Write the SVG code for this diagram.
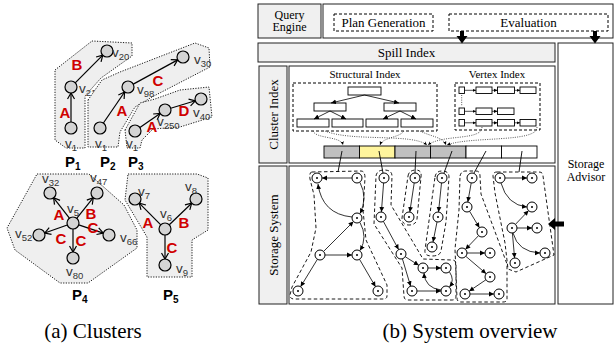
<svg xmlns="http://www.w3.org/2000/svg" width="615" height="350" viewBox="0 0 615 350">
<defs>
  <marker id="open" markerWidth="9" markerHeight="9" refX="7" refY="4.5" orient="auto" markerUnits="userSpaceOnUse">
    <path d="M1,1 L7,4.5 L1,8" fill="none" stroke="#000" stroke-width="1.2"/>
  </marker>
  <marker id="tip" markerWidth="6" markerHeight="6" refX="5" refY="3" orient="auto" markerUnits="userSpaceOnUse">
    <path d="M0,0.6 L5,3 L0,5.4 Z" fill="#000"/>
  </marker>
  <marker id="tiny" markerWidth="4" markerHeight="4" refX="3.5" refY="2" orient="auto" markerUnits="userSpaceOnUse">
    <path d="M0,0.4 L3.5,2 L0,3.6 Z" fill="#000"/>
  </marker>
  <g id="snode"><circle r="5" fill="#fff" stroke="#000" stroke-width="1"/><circle r="1" fill="#000"/></g>
</defs>
<style>
  .hull{fill:#efefef;stroke:#000;stroke-width:0.9;stroke-dasharray:1.2 1.4}
  .pn{fill:#d4d4d4;stroke:#000;stroke-width:1.2}
  .pe{stroke:#000;stroke-width:1.2;fill:none;marker-end:url(#open)}
  .vl{font-family:"Liberation Sans",Arial,sans-serif;font-size:13.5px;fill:#333}
  .sub{font-size:9.5px}
  .el{font-family:"Liberation Sans",Arial,sans-serif;font-size:15px;font-weight:bold;fill:#d00000;text-anchor:middle}
  .pl{font-family:"Liberation Sans",Arial,sans-serif;font-size:15px;font-weight:bold;fill:#000}
  .psub{font-size:10px}
  .box{fill:#fff;stroke:#222;stroke-width:1}
  .gbox{fill:#f0f0f0;stroke:#222;stroke-width:1}
  .t{font-family:"Liberation Serif","Times New Roman",serif;font-size:13px;fill:#000;text-anchor:middle}
  .tt{font-size:12px}
  .ts{font-size:11px}
  .cap{font-family:"Liberation Serif","Times New Roman",serif;font-size:21px;fill:#000;text-anchor:middle}
  .dash{fill:none;stroke:#000;stroke-width:1;stroke-dasharray:3 2}
  .tr{fill:#fff;stroke:#000;stroke-width:0.9}
  .te{fill:none;stroke:#000;stroke-width:0.8;marker-end:url(#tip)}
  .ve{fill:none;stroke:#000;stroke-width:0.7;marker-end:url(#tiny)}
  .se{fill:none;stroke:#000;stroke-width:0.8;marker-end:url(#tip)}
  .ln{fill:none;stroke:#000;stroke-width:0.9}
  .grp{fill:none;stroke:#000;stroke-width:0.9;stroke-dasharray:3.5 2.5}
  .dot{fill:none;stroke:#444;stroke-width:0.9;stroke-dasharray:1 1.3}
  .big{fill:#000}
</style>
<rect width="615" height="350" fill="#fff"/>

<!-- ===== (a) clusters ===== -->
<g id="P1">
  <path class="hull" d="M55,70 L92,41 L132,43 L132,56 L101,78 L85,96 L85,148 L66,148 L55,140 Z"/>
  <g id="P1-edges">
    <line class="pe" x1="71" y1="122" x2="71" y2="93"/>
    <line class="pe" x1="75.2" y1="82.8" x2="102.8" y2="55.2"/>
  </g>
  <g id="P1-v1"><circle class="pn" cx="71" cy="128" r="6"/><text class="vl" x="65" y="148">v<tspan class="sub" dy="3">1</tspan></text></g>
  <g id="P1-v21"><circle class="pn" cx="71" cy="87" r="6"/><text class="vl" x="79" y="93">v<tspan class="sub" dy="3">21</tspan></text></g>
  <g id="P1-v20"><circle class="pn" cx="107" cy="51" r="6"/><text class="vl" x="112" y="57">v<tspan class="sub" dy="3">20</tspan></text></g>
  <text class="el" x="65" y="118">A</text>
  <text class="el" x="77" y="70">B</text>
  <text class="pl" x="65" y="167">P<tspan class="psub" dy="3">1</tspan></text>
</g>

<g id="P2">
  <path class="hull" d="M88,100 L102,80 L120,72 L195,43 L209,48 L210,67 L152,97 L135,107 L120,132 L118,147 L88,147 Z"/>
  <g id="P2-edges">
    <line class="pe" x1="103.4" y1="123" x2="124.6" y2="92"/>
    <line class="pe" x1="133.3" y1="84.1" x2="177.7" y2="59.9"/>
  </g>
  <g id="P2-v1"><circle class="pn" cx="100" cy="128" r="6"/><text class="vl" x="95" y="148">v<tspan class="sub" dy="3">1</tspan></text></g>
  <g id="P2-v98"><circle class="pn" cx="128" cy="87" r="6"/><text class="vl" x="137" y="94">v<tspan class="sub" dy="3">98</tspan></text></g>
  <g id="P2-v30"><circle class="pn" cx="183" cy="57" r="6"/><text class="vl" x="194" y="64">v<tspan class="sub" dy="3">30</tspan></text></g>
  <text class="el" x="122" y="116">A</text>
  <text class="el" x="158" y="86">C</text>
  <text class="pl" x="100" y="167">P<tspan class="psub" dy="3">2</tspan></text>
</g>

<g id="P3">
  <path class="hull" d="M125,130 L140,103 L155,99 L180,90 L209,87 L212,117 L180,127 L153,129 L142,140 L140,148 L127,148 Z"/>
  <g id="P3-edges">
    <line class="pe" x1="139.9" y1="127.6" x2="160.1" y2="113.4"/>
    <line class="pe" x1="170.7" y1="108.2" x2="195.3" y2="100.8"/>
  </g>
  <g id="P3-v1"><circle class="pn" cx="135" cy="131" r="6"/><text class="vl" x="126" y="148">v<tspan class="sub" dy="3">1</tspan></text></g>
  <g id="P3-v250"><circle class="pn" cx="165" cy="110" r="6"/><text class="vl" x="157" y="126">v<tspan class="sub" dy="3">250</tspan></text></g>
  <g id="P3-v40"><circle class="pn" cx="201" cy="99" r="6"/><text class="vl" x="193" y="117">v<tspan class="sub" dy="3">40</tspan></text></g>
  <text class="el" x="152" y="132">A</text>
  <text class="el" x="184" y="116">D</text>
  <text class="pl" x="128" y="167">P<tspan class="psub" dy="3">3</tspan></text>
</g>

<g id="P4">
  <path class="hull" d="M37,174 L89,174 L124,205 L137,230 L137,248 L88,283 L60,283 L15,250 L7,228 Z"/>
  <g id="P4-edges">
    <line class="pe" x1="69.4" y1="218.2" x2="53.6" y2="197.8"/>
    <line class="pe" x1="76.7" y1="218.3" x2="93.3" y2="197.7"/>
    <line class="pe" x1="67.3" y1="225" x2="44.7" y2="233"/>
    <line class="pe" x1="78.7" y1="224.9" x2="103.3" y2="233.1"/>
    <line class="pe" x1="73" y1="229" x2="73" y2="252"/>
  </g>
  <g id="P4-v5"><circle class="pn" cx="73" cy="223" r="6"/><text class="vl" x="67" y="213">v<tspan class="sub" dy="3">5</tspan></text></g>
  <g id="P4-v32"><circle class="pn" cx="50" cy="193" r="6"/><text class="vl" x="42" y="183">v<tspan class="sub" dy="3">32</tspan></text></g>
  <g id="P4-v47"><circle class="pn" cx="97" cy="193" r="6"/><text class="vl" x="90" y="182">v<tspan class="sub" dy="3">47</tspan></text></g>
  <g id="P4-v52"><circle class="pn" cx="39" cy="235" r="6"/><text class="vl" x="15" y="238">v<tspan class="sub" dy="3">52</tspan></text></g>
  <g id="P4-v66"><circle class="pn" cx="109" cy="235" r="6"/><text class="vl" x="120" y="242">v<tspan class="sub" dy="3">66</tspan></text></g>
  <g id="P4-v80"><circle class="pn" cx="73" cy="258" r="6"/><text class="vl" x="66" y="276">v<tspan class="sub" dy="3">80</tspan></text></g>
  <text class="el" x="59" y="220">A</text>
  <text class="el" x="91" y="219">B</text>
  <text class="el" x="93" y="233">C</text>
  <text class="el" x="61" y="244">C</text>
  <text class="el" x="81" y="246">C</text>
  <text class="pl" x="72" y="300">P<tspan class="psub" dy="3">4</tspan></text>
</g>

<g id="P5">
  <path class="hull" d="M128,174 L197,174 L208,178 L208,230 L192,240 L192,277 L147,277 L147,237 L125,200 Z"/>
  <g id="P5-edges">
    <line class="pe" x1="160.8" y1="224.8" x2="139.2" y2="203.2"/>
    <line class="pe" x1="169.3" y1="224.8" x2="191.7" y2="203.2"/>
    <line class="pe" x1="165" y1="235" x2="165" y2="259"/>
  </g>
  <g id="P5-v6"><circle class="pn" cx="165" cy="229" r="6"/><text class="vl" x="160" y="218">v<tspan class="sub" dy="3">6</tspan></text></g>
  <g id="P5-v7"><circle class="pn" cx="135" cy="199" r="6"/><text class="vl" x="138" y="196">v<tspan class="sub" dy="3">7</tspan></text></g>
  <g id="P5-v8"><circle class="pn" cx="196" cy="199" r="6"/><text class="vl" x="185" y="191">v<tspan class="sub" dy="3">8</tspan></text></g>
  <g id="P5-v9"><circle class="pn" cx="165" cy="265" r="6"/><text class="vl" x="176" y="273">v<tspan class="sub" dy="3">9</tspan></text></g>
  <text class="el" x="148" y="228">A</text>
  <text class="el" x="184" y="228">B</text>
  <text class="el" x="172" y="253">C</text>
  <text class="pl" x="163" y="300">P<tspan class="psub" dy="3">5</tspan></text>
</g>

<!-- ===== (b) system overview ===== -->
<g id="query-engine">
  <rect class="gbox" x="258" y="4" width="63" height="34"/>
  <text class="t tt" x="289.5" y="18.5">Query</text>
  <text class="t tt" x="289.5" y="31">Engine</text>
</g>
<g id="engine-body">
  <rect class="box" x="323" y="4" width="290" height="34"/>
</g>
<g id="plan-generation">
  <rect class="dash" x="334" y="14" width="99" height="17"/>
  <text class="t" x="383.5" y="27">Plan Generation</text>
</g>
<g id="evaluation">
  <rect class="dash" x="449" y="14" width="159" height="17"/>
  <text class="t" x="528.5" y="27">Evaluation</text>
</g>
<g id="spill-index">
  <rect class="gbox" x="258" y="43" width="297" height="19"/>
  <text class="t" x="406.5" y="56.5">Spill Index</text>
</g>
<g id="storage-advisor">
  <rect class="box" x="558" y="43" width="55" height="261"/>
  <text class="t tt" x="586" y="168">Storage</text>
  <text class="t tt" x="586" y="180.5">Advisor</text>
</g>

<g id="cluster-index">
  <rect class="gbox" x="259" y="66" width="28" height="97"/>
  <text class="t" transform="translate(277.5,114.5) rotate(-90)">Cluster Index</text>
  <rect class="box" x="289" y="66" width="266" height="97"/>
</g>

<g id="structural-index">
  <text class="t ts" x="365" y="78">Structural Index</text>
  <rect class="dash" x="293" y="83" width="144" height="48"/>
  <rect class="tr" x="348" y="87" width="33" height="8"/>
  <rect class="tr" x="314" y="103" width="32" height="8"/>
  <rect class="tr" x="384" y="103" width="32" height="8"/>
  <rect class="tr" x="297" y="119" width="32" height="8"/>
  <rect class="tr" x="332" y="119" width="31" height="8"/>
  <rect class="tr" x="366" y="119" width="32" height="8"/>
  <rect class="tr" x="401" y="119" width="32" height="8"/>
  <path class="te" d="M364.5,95 L331,103"/>
  <path class="te" d="M364.5,95 L399,103"/>
  <path class="te" d="M330,111 L314,119"/>
  <path class="te" d="M330,111 L346,119"/>
  <path class="te" d="M400,111 L383,119"/>
  <path class="te" d="M400,111 L416,119"/>
</g>

<g id="vertex-index">
  <text class="t ts" x="497" y="78">Vertex Index</text>
  <rect class="dash" x="455" y="83" width="85" height="47"/>
  <rect class="tr" x="459" y="87" width="5.5" height="6.5"/>
  <rect class="tr" x="476" y="87" width="16" height="6.5"/>
  <rect class="tr" x="497.5" y="87" width="17" height="6.5"/>
  <rect class="tr" x="520" y="87" width="16" height="6.5"/>
  <rect class="tr" x="459" y="108" width="5.5" height="6.5"/>
  <rect class="tr" x="476" y="108" width="16" height="6.5"/>
  <rect class="tr" x="497.5" y="108" width="16.5" height="6.5"/>
  <rect class="tr" x="459" y="119.5" width="5.5" height="6.5"/>
  <rect class="tr" x="476" y="119.5" width="16" height="6.5" fill="#fff59d"/>
  <rect class="tr" x="497.5" y="119.5" width="17" height="6.5" fill="#fdd6b2"/>
  <rect class="tr" x="520" y="119.5" width="16" height="6.5" fill="#f77a00"/>
  <path class="ve" d="M464.5,90.3 H476"/>
  <path class="ve" d="M492,90.3 H497.5"/>
  <path class="ve" d="M514.5,90.3 H520"/>
  <path class="ve" d="M464.5,111.3 H476"/>
  <path class="ve" d="M492,111.3 H497.5"/>
  <path class="ve" d="M464.5,122.8 H476"/>
  <path class="ve" d="M492,122.8 H497.5"/>
  <path class="ve" d="M514.5,122.8 H520"/>
  <path class="dot" d="M461.7,95 V106"/>
</g>

<g id="cluster-bar">
  <rect x="324" y="146" width="35.5" height="12" fill="#c0c0c0" stroke="#000" stroke-width="0.9"/>
  <rect x="359.5" y="146" width="35.5" height="12" fill="#fff59d" stroke="#000" stroke-width="0.9"/>
  <rect x="395" y="146" width="35.5" height="12" fill="#c0c0c0" stroke="#000" stroke-width="0.9"/>
  <rect x="430.5" y="146" width="35.5" height="12" fill="#c0c0c0" stroke="#000" stroke-width="0.9"/>
  <rect x="466" y="146" width="35.5" height="12" fill="#fff" stroke="#000" stroke-width="0.9"/>
  <rect x="501.5" y="146" width="35.5" height="12" fill="#fff" stroke="#000" stroke-width="0.9"/>
</g>

<g id="index-pointers">
  <path class="dot" d="M313,131 C316,139 341,136 343,145" marker-end="url(#tiny)"/>
  <path class="dot" d="M404,131 C399,138 383,137 380,145" marker-end="url(#tiny)"/>
  <path class="dot" d="M325,131 C352,142 412,133 427,145" marker-end="url(#tiny)"/>
  <path class="dot" d="M420,131 C432,137 443,137 446,145" marker-end="url(#tiny)"/>
  <path class="dot" d="M482,127 C482,141 442,134 428,145" marker-end="url(#tiny)"/>
  <path class="dot" d="M537,127 C538,143 470,136 447,145" marker-end="url(#tiny)"/>
</g>

<g id="storage-system">
  <rect class="gbox" x="259" y="166" width="28" height="138"/>
  <text class="t" transform="translate(277.5,235) rotate(-90)">Storage System</text>
  <rect class="box" x="289" y="166" width="266" height="138"/>
</g>

<g id="connectors">
  <!-- engine to spill index / advisor -->
  <path class="big" d="M460,31 H464 V36 H467.5 L462,43.5 L456.5,36 H460 Z"/>
  <path class="big" d="M593,31 H597 V36 H600.5 L595,43.5 L589.5,36 H593 Z"/>
  <!-- advisor to storage -->
  <path class="big" d="M548,224 L555,218 V221.5 H564 V226.5 H555 V230 Z"/>
  <!-- cluster cells to storage groups -->
  <line class="ln" x1="342" y1="151" x2="338" y2="172"/>
  <line class="ln" x1="379" y1="151" x2="383" y2="173"/>
  <line class="ln" x1="416" y1="151" x2="415" y2="173"/>
  <line class="ln" x1="452" y1="151" x2="444" y2="173"/>
  <line class="ln" x1="486" y1="151" x2="474" y2="173"/>
  <line class="ln" x1="522" y1="151" x2="519" y2="172"/>
</g>

<g id="group-1">
  <path class="grp" d="M312,172 L361,171 Q365,171 365,178 L363,210 L366,240 L387,285 L387,296 Q387,299 383,299 L294,299 Q290,299 290,295 L292,287 L311,252 L316,228 L314,195 L310,179 Q309,172 312,172 Z"/>
  <line class="se" x1="352" y1="178" x2="322" y2="178"/>
  <path class="se" d="M352,217 Q322,214 318,184"/>
  <path class="se" d="M360,182.5 Q368,198 360,213.5"/>
  <line class="se" x1="323.5" y1="251.5" x2="353.5" y2="221.5"/>
  <line class="se" x1="325" y1="255" x2="352" y2="255"/>
  <path class="se" d="M360,222.5 Q368,237 360,250.5"/>
  <line class="se" x1="317.4" y1="259.3" x2="300.6" y2="286.7"/>
  <line class="se" x1="359.5" y1="259.3" x2="375.5" y2="286.7"/>
  <use href="#snode" x="317" y="178"/><use href="#snode" x="357" y="178"/>
  <use href="#snode" x="357" y="218"/><use href="#snode" x="320" y="255"/>
  <use href="#snode" x="357" y="255"/><use href="#snode" x="298" y="291"/>
  <use href="#snode" x="378" y="291"/>
</g>

<g id="group-2">
  <path class="grp" d="M376,176 Q377,170 384,170 Q392,170 392,176 L391,205 L423,259 L452,260 Q456,260 456,264 L456,296 Q456,300 452,300 L408,300 Q404,300 404,296 L402,268 L374,224 Z"/>
  <line class="se" x1="383.6" y1="183" x2="381.4" y2="212"/>
  <line class="se" x1="383.4" y1="221.4" x2="398.6" y2="249.6"/>
  <line class="se" x1="405.2" y1="256.7" x2="418.8" y2="265.3"/>
  <line class="se" x1="428" y1="268" x2="441" y2="268"/>
  <line class="se" x1="402.4" y1="258.8" x2="410.6" y2="286.2"/>
  <line class="se" x1="417" y1="291" x2="441" y2="291"/>
  <path class="se" d="M449.5,272 Q455,280 449.5,287"/>
  <path class="se" d="M441,290 Q425,288 424,273"/>
  <use href="#snode" x="384" y="178"/><use href="#snode" x="381" y="217"/>
  <use href="#snode" x="401" y="254"/><use href="#snode" x="423" y="268"/>
  <use href="#snode" x="446" y="268"/><use href="#snode" x="412" y="291"/>
  <use href="#snode" x="446" y="291"/>
</g>

<g id="group-3">
  <path class="grp" d="M408,176 Q409,170 416,170 Q422,170 421,177 L417,219 Q416,225 409,225 Q402,225 402,218 Z"/>
  <line class="se" x1="414.2" y1="183" x2="409.8" y2="212"/>
  <use href="#snode" x="415" y="178"/><use href="#snode" x="409" y="217"/>
</g>

<g id="group-4">
  <path class="grp" d="M435,177 Q436,171 442,171 Q449,171 449,177 L446,222 L441,251 Q440,256 432,256 Q424,256 425,250 Z"/>
  <line class="se" x1="441.5" y1="183" x2="438.5" y2="212"/>
  <line class="se" x1="437" y1="222" x2="433" y2="242"/>
  <use href="#snode" x="442" y="178"/><use href="#snode" x="438" y="217"/>
  <use href="#snode" x="432" y="247"/>
</g>

<g id="group-5">
  <path class="grp" d="M460,176 Q461,171 466,171 L476,171 Q480,171 480,176 L481,194 L507,264 L507,299 Q507,302 503,302 L461,302 Q457,302 457,298 L455,249 L459,210 Z"/>
  <line class="se" x1="471.2" y1="183" x2="467.8" y2="202"/>
  <line class="se" x1="469.6" y1="211.3" x2="479.4" y2="227.7"/>
  <line class="se" x1="478.6" y1="235.6" x2="465.4" y2="249.4"/>
  <line class="se" x1="467" y1="253" x2="485" y2="253"/>
  <line class="se" x1="465.8" y1="256.3" x2="486.2" y2="273.7"/>
  <line class="se" x1="485.9" y1="279.8" x2="469.1" y2="291.2"/>
  <line class="se" x1="470" y1="294" x2="494" y2="294"/>
  <use href="#snode" x="472" y="178"/><use href="#snode" x="467" y="207"/>
  <use href="#snode" x="482" y="232"/><use href="#snode" x="462" y="253"/>
  <use href="#snode" x="490" y="253"/><use href="#snode" x="490" y="277"/>
  <use href="#snode" x="465" y="294"/><use href="#snode" x="499" y="294"/>
</g>

<g id="group-6">
  <path class="grp" d="M497,172 L539,172 Q543,172 543,176 L554,255 L516,272 L508,269 L505,243 L495,193 L493,176 Q493,172 497,172 Z"/>
  <line class="se" x1="505" y1="178" x2="527" y2="178"/>
  <path class="se" d="M501,183 Q507,205 527,207"/>
  <line class="se" x1="515.4" y1="224.4" x2="528.6" y2="210.6"/>
  <line class="se" x1="517" y1="228" x2="532" y2="228"/>
  <line class="se" x1="512.4" y1="233" x2="514.6" y2="258"/>
  <path class="se" d="M513,233 Q518,252 540,253"/>
  <use href="#snode" x="500" y="178"/><use href="#snode" x="532" y="178"/>
  <use href="#snode" x="532" y="207"/><use href="#snode" x="512" y="228"/>
  <use href="#snode" x="537" y="228"/><use href="#snode" x="545" y="253"/>
  <use href="#snode" x="515" y="263"/>
</g>

<!-- captions -->
<text class="cap" x="93" y="338">(a) Clusters</text>
<text class="cap" x="470" y="338">(b) System overview</text>
</svg>
